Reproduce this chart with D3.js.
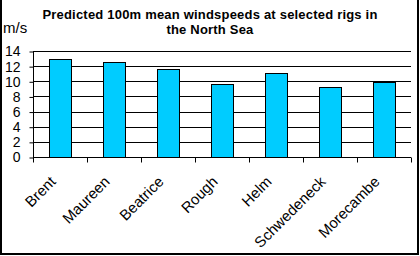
<!DOCTYPE html>
<html>
<head>
<meta charset="utf-8">
<script src="https://cdn.jsdelivr.net/npm/d3@7"></script>
<style>
html,body{margin:0;padding:0;background:#fff;}
svg{display:block;}
text{font-family:Arial,"Liberation Sans",sans-serif;fill:#000;}
</style>
</head>
<body>
<svg id="chart" width="420" height="256"></svg>
<script>
const categories = ["Brent","Maureen","Beatrice","Rough","Helm","Schwedeneck","Morecambe"];
const windspeeds = [12.9, 12.5, 11.6, 9.7, 11.05, 9.2, 9.85];
const yTicks = [0, 2, 4, 6, 8, 10, 12, 14];
const titleLines = ["Predicted 100m mean windspeeds at selected rigs in", "the North Sea"];
const unitLabel = "m/s";

const svg = d3.select("#chart");

// outer border
svg.append("rect").attr("x", 1).attr("y", -2).attr("width", 417).attr("height", 256)
  .attr("fill", "#fff").attr("stroke", "#000").attr("stroke-width", 2);

const x = d3.scaleBand().domain(categories).range([33, 411]).padding(0);
const y = d3.scaleLinear().domain([0, 14]).range([157, 51]);

// gridlines
svg.append("g").selectAll("line").data(yTicks.filter(d => d > 0)).join("line")
  .attr("x1", 33).attr("x2", 411)
  .attr("y1", d => Math.round(y(d)) + 0.5).attr("y2", d => Math.round(y(d)) + 0.5)
  .attr("stroke", "#000").attr("stroke-width", 1);

// bars
const bw = x.bandwidth() * 0.41;
svg.append("g").selectAll("rect").data(categories).join("rect")
  .attr("x", d => Math.round(x(d) + (x.bandwidth() - bw) / 2) + 0.5)
  .attr("y", (d, i) => Math.round(y(windspeeds[i])) + 0.5)
  .attr("width", Math.round(bw))
  .attr("height", (d, i) => Math.round(y(0)) - Math.round(y(windspeeds[i])))
  .attr("fill", "#00CCFF").attr("stroke", "#000").attr("stroke-width", 1);

// y axis
const yAxis = d3.axisLeft(y).tickValues(yTicks).tickSize(4).tickPadding(9).tickFormat(d3.format("d"));
const gy = svg.append("g").attr("transform", "translate(33.5,0.5)").call(yAxis);
gy.select(".domain").attr("d", `M0,${y(14)}V${y(0)}`).attr("stroke", "#000");
gy.selectAll(".tick line").attr("stroke", "#000");
gy.selectAll(".tick text").attr("font-size", 14).attr("font-family", "Arial, 'Liberation Sans', sans-serif").attr("fill", "#000");

// x axis
const gx = svg.append("g").attr("transform", `translate(0,${Math.round(y(0)) + 0.5})`);
gx.append("line").attr("x1", 33).attr("x2", 411).attr("stroke", "#000");
const boundaries = categories.map(c => x(c)).concat([x.range()[1]]);
gx.selectAll("line.tk").data(boundaries).join("line").attr("class", "tk")
  .attr("x1", d => Math.round(d) + 0.5).attr("x2", d => Math.round(d) + 0.5)
  .attr("y1", 0).attr("y2", 5).attr("stroke", "#000");

// x labels rotated
svg.append("g").selectAll("text").data(categories).join("text")
  .attr("transform", d => `translate(${x(d) + x.bandwidth() / 2 - 11},175) rotate(-45)`)
  .attr("text-anchor", "end")
  .attr("dy", "0.72em")
  .attr("font-size", 15)
  .text(d => d);

// title
svg.append("g").selectAll("text").data(titleLines).join("text")
  .attr("x", 210).attr("y", (d, i) => 19 + i * 15)
  .attr("text-anchor", "middle")
  .attr("font-weight", "bold").attr("font-size", 13)
  .attr("letter-spacing", 0.2)
  .text(d => d);

// unit label
svg.append("text").attr("x", 3).attr("y", 33).attr("font-size", 15).text(unitLabel);
</script>
</body>
</html>
